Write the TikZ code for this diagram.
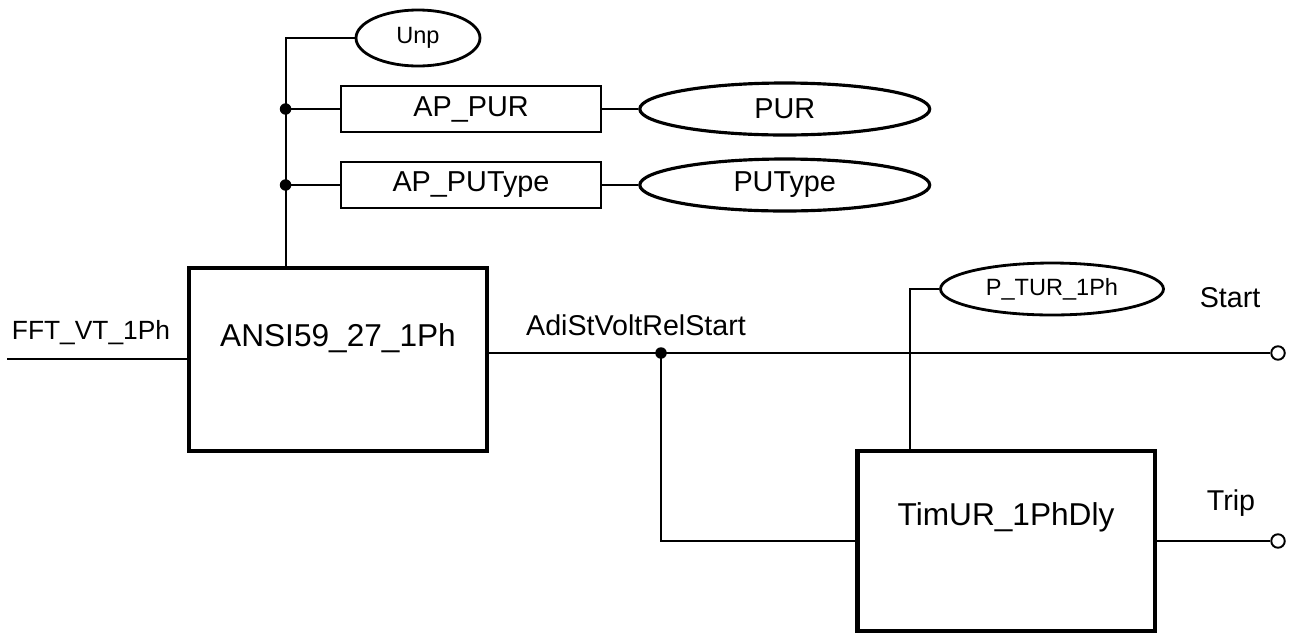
\documentclass[tikz,border=0pt]{standalone}
\usepackage{fontspec}
\setmainfont{Liberation Sans}
\usetikzlibrary{shapes.geometric,calc}
\tikzset{
  wire/.style={line width=1.1pt},
  bigbox/.style={draw,line width=2.8pt,rectangle,minimum width=5.96cm,minimum height=3.66cm,inner sep=0pt},
  apbox/.style={draw,line width=1.4pt,rectangle,minimum width=5.2cm,minimum height=0.92cm,inner sep=0pt,font=\fontsize{16.4pt}{18pt}\selectfont},
  bigell/.style={draw,line width=1.8pt,ellipse,minimum width=5.8cm,minimum height=1.04cm,inner sep=0pt,font=\fontsize{16.4pt}{18pt}\selectfont},
  smallell/.style={draw,line width=1.6pt,ellipse,inner sep=0pt,font=\fontsize{13.4pt}{15pt}\selectfont},
  boxtext/.style={font=\fontsize{18pt}{20pt}\selectfont,inner sep=0pt},
  lbl/.style={font=\fontsize{16.3pt}{18pt}\selectfont,inner sep=0pt},
  dotc/.style={circle,fill,inner sep=0pt,minimum size=0.23cm},
  term/.style={circle,draw,fill=white,line width=1.1pt,inner sep=0pt,minimum size=0.27cm}
}
\begin{document}
\begin{tikzpicture}[x=0.02cm,y=-0.02cm]
\useasboundingbox (0,0) rectangle (1291,633);
% nodes
\node[smallell,minimum width=2.48cm,minimum height=1.12cm] (unp) at (418,38) {Unp};
\node[apbox] (appur) at (471,109) {AP\_PUR};
\node[apbox] (aputype) at (471,185) {AP\_PUType};
\node[bigell,anchor=west] (pur) at ($(appur.east)+(36,0)$) {PUR};
\node[bigell,anchor=west] (putype) at ($(aputype.east)+(36,0)$) {PUType};
\node[bigbox] (ansi) at (338,359.5) {};
\node[boxtext] (ansit) at (338,338) {ANSI59\_27\_1Ph};
\node[bigbox,minimum height=3.6cm] (tim) at (1006,541) {};
\node[boxtext] (timt) at (1006,517) {TimUR\_1PhDly};
\node[smallell,minimum width=4.46cm,minimum height=1.04cm] (ptur) at (1052,289) {P\_TUR\_1Ph};
\node[term] (startc) at (1278,353) {};
\node[term] (tripc) at (1278,541) {};
\node[lbl,font=\fontsize{15pt}{17pt}\selectfont] (fftl) at (91,333) {FFT\_VT\_1Ph};
\node[lbl] (adil) at (636,325) {AdiStVoltRelStart};
\node[lbl] (startl) at (1230,298) {Start};
\node[lbl] (tripl) at (1231,503) {Trip};
% coordinates
\coordinate (in) at (7,359);
\coordinate (busbot) at ($(ansi.north west)+(99,0)$);
\coordinate (d1) at (appur.west -| busbot);
\coordinate (d2) at (aputype.west -| busbot);
\coordinate (j1) at (661,353);
\coordinate (tv) at ($(tim.north west)+(55,0)$);
% connectors
\draw[wire] (unp.west) -| (busbot);
\draw[wire] (d1) -- (appur.west);
\draw[wire] (d2) -- (aputype.west);
\draw[wire] (appur.east) -- (pur.west);
\draw[wire] (aputype.east) -- (putype.west);
\draw[wire] (in) -- (in -| ansi.west);
\draw[wire] (j1 -| ansi.east) -- (startc.west);
\draw[wire] (j1) |- (tim.west);
\draw[wire] (ptur.west) -| (tv);
\draw[wire] (tim.east) -- (tripc.west);
\node[dotc] at (d1) {};
\node[dotc] at (d2) {};
\node[dotc] at (j1) {};
\end{tikzpicture}
\end{document}
